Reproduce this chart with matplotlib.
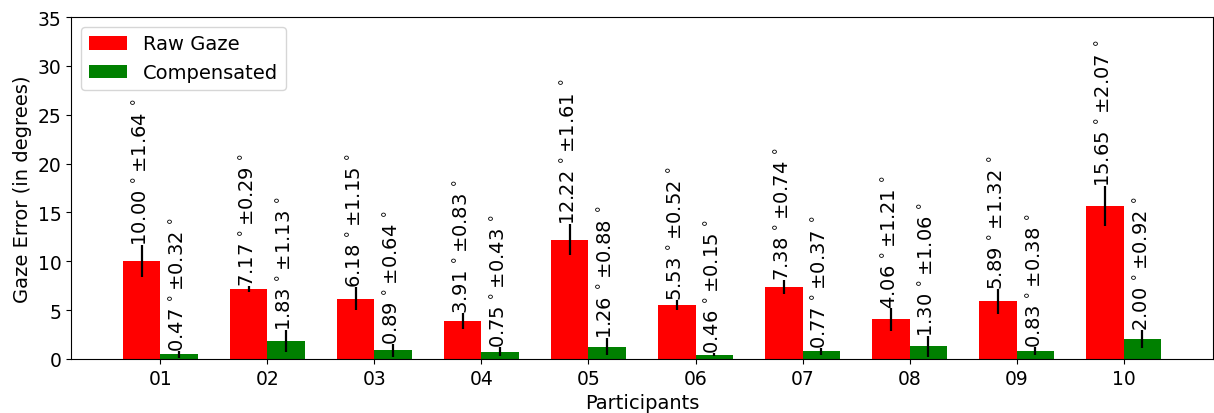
import matplotlib.pyplot as plt
import numpy as np

participants = ['01', '02', '03', '04', '05', '06', '07', '08', '09', '10']
raw_mean = [10.00, 7.17, 6.18, 3.91, 12.22, 5.53, 7.38, 4.06, 5.89, 15.65]
raw_std = [1.64, 0.29, 1.15, 0.83, 1.61, 0.52, 0.74, 1.21, 1.32, 2.07]
comp_mean = [0.47, 1.83, 0.89, 0.75, 1.26, 0.46, 0.77, 1.30, 0.83, 2.00]
comp_std = [0.32, 1.13, 0.64, 0.43, 0.88, 0.15, 0.37, 1.06, 0.38, 0.92]

fig = plt.figure(figsize=(12.14, 4.14), dpi=100)
ax = fig.add_axes([71/1214, 1 - 360/414, (1213 - 71)/1214, (360 - 18)/414])

x = np.arange(len(participants))
w = 0.35

ax.bar(x - w/2, raw_mean, w, yerr=raw_std, color='red', label='Raw Gaze',
       error_kw=dict(ecolor='black', elinewidth=1.6))
ax.bar(x + w/2, comp_mean, w, yerr=comp_std, color='green', label='Compensated',
       error_kw=dict(ecolor='black', elinewidth=1.6))

def label(xs, means, stds):
    for xi, m, s in zip(xs, means, stds):
        ax.text(xi, m + s, '%.2f$\\,^\\circ$±%.2f$\\,^\\circ$' % (m, s),
                rotation=90, ha='center', va='bottom', fontsize=14)

label(x - w/2, raw_mean, raw_std)
label(x + w/2, comp_mean, comp_std)

ax.set_ylim(0, 35)
ax.set_xticks(x)
ax.set_xticklabels(participants)
ax.tick_params(labelsize=13.5)
ax.set_ylabel('Gaze Error (in degrees)', fontsize=14)
ax.set_xlabel('Participants', fontsize=14)
ax.legend(loc='upper left', fontsize=14)

fig.savefig('out.png')
